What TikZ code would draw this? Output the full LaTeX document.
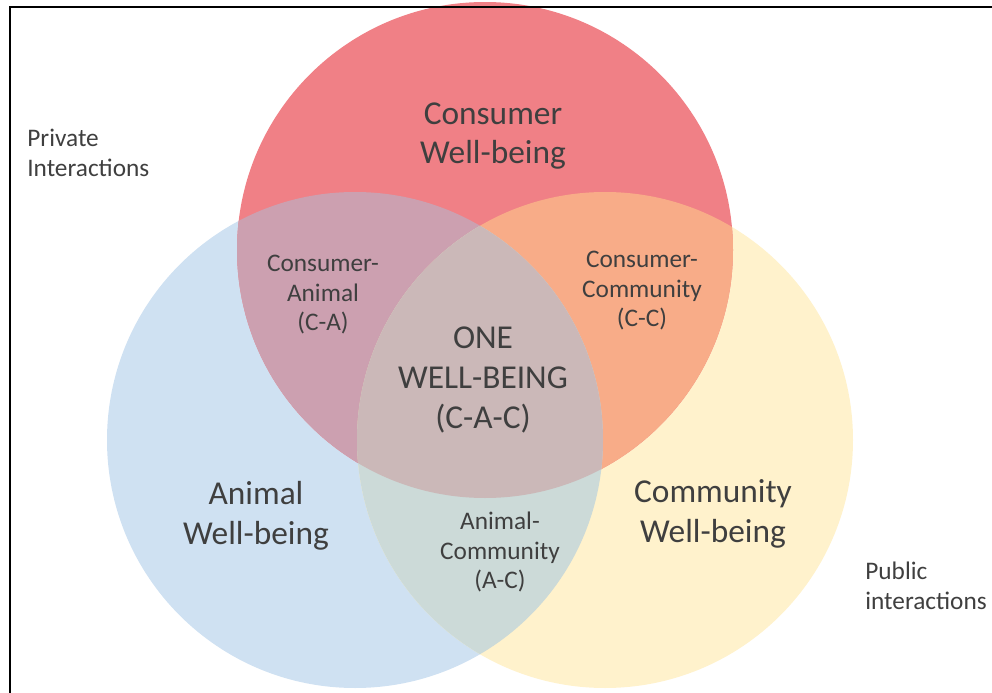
\documentclass[tikz,border=0pt]{standalone}
\usepackage{fontspec}
\setmainfont{Carlito}
\definecolor{consumerred}{HTML}{F08086}
\definecolor{animalblue}{HTML}{CFE1F2}
\definecolor{communityyellow}{HTML}{FFF2CC}
\definecolor{caclr}{HTML}{CCA0B0}
\definecolor{ccclr}{HTML}{F8AC88}
\definecolor{acclr}{HTML}{CCDAD8}
\definecolor{cacclr}{HTML}{CBB8B8}
\definecolor{textgrey}{HTML}{3F3F3F}
\usetikzlibrary{positioning}

\begin{document}
\begin{tikzpicture}[
  x=0.02cm, y=-0.02cm,
  every node/.style={text=textgrey, align=center, inner sep=0pt},
  big/.style={font=\fontsize{19}{22.7}\selectfont},
  small/.style={font=\fontsize{14.4}{16.8}\selectfont},
  frame/.style={line width=1.1pt, line cap=rect}
]
  \useasboundingbox (0,0) rectangle (992,693);

  \coordinate (consumer)  at (485,250);
  \coordinate (animal)    at (355,440);
  \coordinate (community) at (605,440);

  % single circles
  \fill[animalblue]      (animal)    circle[radius=248];
  \fill[communityyellow] (community) circle[radius=248];
  \fill[consumerred]     (consumer)  circle[radius=248];

  % pairwise overlaps
  \begin{scope}
    \clip (consumer) circle[radius=248];
    \fill[caclr] (animal) circle[radius=248];
    \fill[ccclr] (community) circle[radius=248];
  \end{scope}
  \begin{scope}
    \clip (animal) circle[radius=248];
    \fill[acclr] (community) circle[radius=248];
  \end{scope}

  % centre
  \begin{scope}
    \clip (consumer) circle[radius=248];
    \clip (animal) circle[radius=248];
    \fill[cacclr] (community) circle[radius=248];
  \end{scope}

  \draw[frame] (10,693) -- (10,7) -- (992,7);

  \node[big]   (conslbl) at (493,136) {Consumer\\Well-being};
  \node[big]   (animlbl) at (256,516) {Animal\\Well-being};
  \node[big]   (commlbl) at (713,514) {Community\\Well-being};
  \node[big]   (onelbl)  at (483,380) {ONE\\WELL-BEING\\(C-A-C)};
  \node[small] (calbl)   at (323,295) {Consumer-\\Animal\\(C-A)};
  \node[small] (cclbl)   at (642,291) {Consumer-\\Community\\(C-C)};
  \node[small] (aclbl)   at (500,552) {Animal-\\Community\\(A-C)};
  \node[small, align=left, anchor=west] (privlbl) at (27,153)  {Private\\Interactions};
  \node[small, align=left, anchor=west] (publbl)  at (865,586) {Public\\interactions};
\end{tikzpicture}
\end{document}
